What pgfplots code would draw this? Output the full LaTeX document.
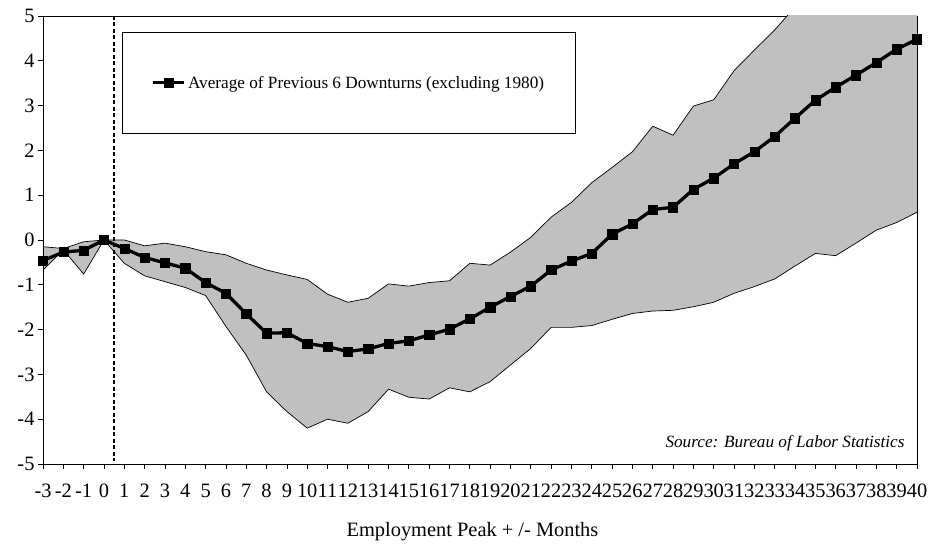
\documentclass[border=0pt]{standalone}
\usepackage{fontspec}
\setmainfont{Liberation Serif}
\usepackage{pgfplots}
\pgfplotsset{compat=1.18}
\usepgfplotslibrary{fillbetween}
\definecolor{bandgray}{RGB}{192,192,192}
\begin{document}
\begin{tikzpicture}
\begin{axis}[
  set layers,
  clip mode=individual,
  scale only axis, width=874pt, height=448pt,
  xmin=-3, xmax=40, ymin=-5, ymax=5,
  axis line style={line width=0.8pt},
  xtick={-3,-2,...,40},
  xticklabels={-3,-2,-1,0,1,2,3,4,5,6,7,8,9,10,11,12,13,14,15,16,17,18,19,20,21,22,23,24,25,26,27,28,29,30,31,32,33,34,35,36,37,38,39,40},
  ytick={-5,-4,...,5},
  yticklabels={-5,-4,-3,-2,-1,0,1,2,3,4,5},
  tick pos=left, tick align=outside, major tick length=5pt,
  tick style={line width=0.8pt, black},
  tick label style={font=\fontsize{20.4}{24}\selectfont},
  xticklabel style={anchor=base, yshift=-28pt},
  xlabel={Employment Peak + /- Months},
  xlabel style={at={(axis description cs:0.4914,0)}, anchor=base, yshift=-72pt, font=\fontsize{20.4}{24}\selectfont},
  legend style={at={(0.0904,0.964)}, anchor=north west, draw=black, line width=0.6pt,
    inner xsep=29.5pt, inner ysep=41.5pt, font=\fontsize{17.2}{20}\selectfont},
  legend cell align=left,
  legend image code/.code={\draw[mark repeat=2,mark phase=2,#1] plot coordinates {(0pt,0pt) (15.5pt,0pt) (31pt,0pt)};},
]
\addplot[black, line width=0.7pt, name path=up, forget plot] coordinates {
(-3,-0.15) (-2,-0.19) (-1,-0.04) (0,0) (1,0) (2,-0.13) (3,-0.07) (4,-0.15) (5,-0.26) (6,-0.33)
(7,-0.52) (8,-0.67) (9,-0.78) (10,-0.88) (11,-1.21) (12,-1.39) (13,-1.30) (14,-0.98) (15,-1.03) (16,-0.95)
(17,-0.91) (18,-0.52) (19,-0.56) (20,-0.27) (21,0.06) (22,0.51) (23,0.84) (24,1.28) (25,1.62) (26,1.97)
(27,2.54) (28,2.34) (29,2.99) (30,3.13) (31,3.78) (32,4.24) (33,4.69) (34,5.2) (35,5.6) (36,6.0)
(37,6.4) (38,6.8) (39,7.2) (40,7.6)};
\addplot[black, line width=0.7pt, name path=lo, forget plot] coordinates {
(-3,-0.67) (-2,-0.22) (-1,-0.76) (0,0) (1,-0.52) (2,-0.80) (3,-0.93) (4,-1.06) (5,-1.24) (6,-1.93)
(7,-2.57) (8,-3.39) (9,-3.83) (10,-4.20) (11,-4.00) (12,-4.09) (13,-3.83) (14,-3.33) (15,-3.51) (16,-3.55)
(17,-3.30) (18,-3.39) (19,-3.16) (20,-2.79) (21,-2.42) (22,-1.95) (23,-1.95) (24,-1.91) (25,-1.77) (26,-1.64)
(27,-1.585) (28,-1.57) (29,-1.49) (30,-1.39) (31,-1.19) (32,-1.04) (33,-0.87) (34,-0.58) (35,-0.30) (36,-0.35)
(37,-0.07) (38,0.22) (39,0.39) (40,0.62)};
\addplot[bandgray, forget plot] fill between[of=up and lo];
\addplot[black, line width=1.8pt, dash pattern=on 4pt off 2.5pt, forget plot] coordinates {(0.5,5) (0.5,-4.93)};
\draw[black, line width=0.8pt] (rel axis cs:1,0) -- (rel axis cs:1,1);
\draw[black, line width=0.8pt] (rel axis cs:0,0) -- (rel axis cs:0,1);
\addplot[black, line width=3.3pt, mark=square*, mark size=4.6pt, mark options={solid, line width=0.4pt}] coordinates {
(-3,-0.46) (-2,-0.27) (-1,-0.23) (0,0) (1,-0.19) (2,-0.39) (3,-0.51) (4,-0.63) (5,-0.95) (6,-1.19)
(7,-1.65) (8,-2.08) (9,-2.07) (10,-2.31) (11,-2.38) (12,-2.49) (13,-2.43) (14,-2.31) (15,-2.25) (16,-2.12)
(17,-1.99) (18,-1.76) (19,-1.50) (20,-1.26) (21,-1.03) (22,-0.67) (23,-0.47) (24,-0.30) (25,0.13) (26,0.36)
(27,0.68) (28,0.73) (29,1.13) (30,1.38) (31,1.70) (32,1.97) (33,2.31) (34,2.72) (35,3.12) (36,3.41)
(37,3.68) (38,3.96) (39,4.26) (40,4.48)};
\addlegendentry{Average of Previous 6 Downturns (excluding 1980)}
\node[anchor=east, inner sep=0pt, font=\itshape\fontsize{17.2}{20}\selectfont] at (rel axis cs:0.986,0.047) {Source: Bureau of Labor Statistics};
\end{axis}
\pgfresetboundingbox
\path[use as bounding box] (-43pt,-80pt) rectangle (892pt,464pt);
\end{tikzpicture}
\end{document}
